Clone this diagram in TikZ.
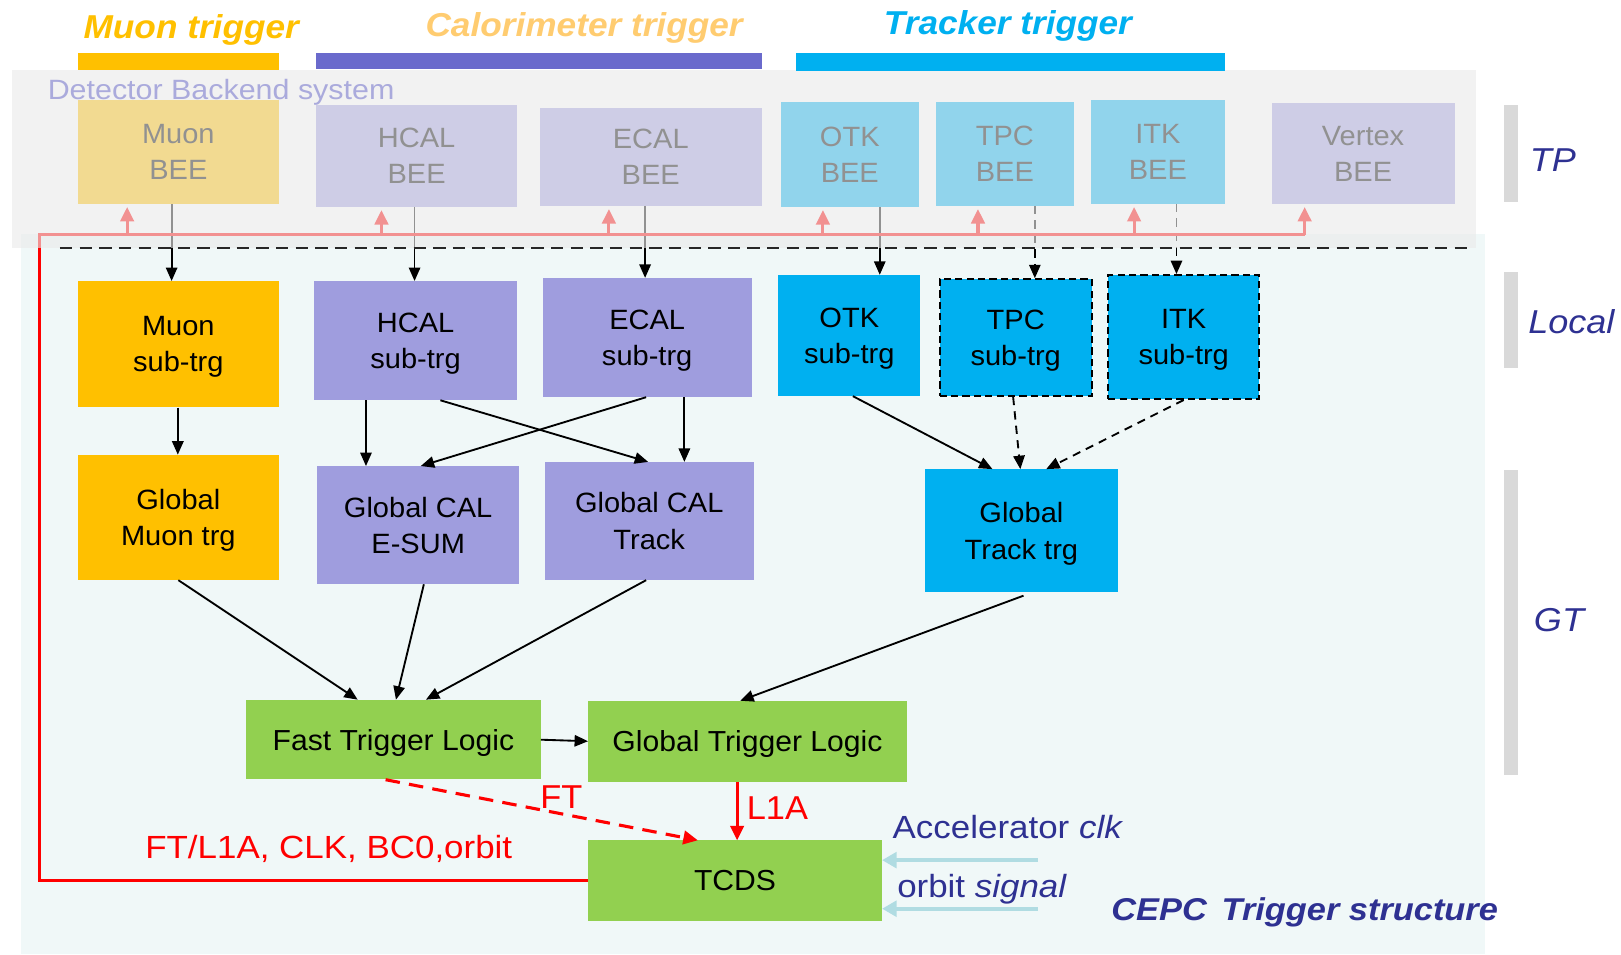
\documentclass[tikz,border=0pt]{standalone}
\usepackage{fontspec}
\setmainfont{Liberation Sans}[FakeStretch=1.04]
\newfontfamily\titlefont{Liberation Sans}[FakeStretch=1.065]
\newfontfamily\labelfont{Liberation Sans}[FakeStretch=1.09]
\usetikzlibrary{arrows.meta}

% keep the height of a text line but drop its descender depth
\newcommand\flatdepth[1]{\raisebox{0pt}[\height][0pt]{#1}}

\definecolor{muonor}{RGB}{255,192,0}
\definecolor{calpur}{RGB}{159,157,222}
\definecolor{trkcyan}{RGB}{0,176,240}
\definecolor{logicgreen}{RGB}{146,208,80}
\definecolor{barpur}{RGB}{106,106,204}
\definecolor{calotitle}{RGB}{255,204,112}
\definecolor{navy}{RGB}{46,49,146}
\definecolor{lowbg}{RGB}{240,248,248}
\definecolor{veil}{RGB}{235,235,235}
\definecolor{sidebar}{RGB}{217,217,217}
\definecolor{clkblue}{RGB}{176,220,226}
\definecolor{detlabel}{RGB}{170,170,220}

\begin{document}
\begin{tikzpicture}[x=1pt,y=-1pt,
  box/.style={draw=none,inner sep=0pt,align=center,
              font=\fontsize{27}{35}\selectfont},
  muonbox/.style={box,fill=muonor},
  calbox/.style={box,fill=calpur},
  trkbox/.style={box,fill=trkcyan},
  logicbox/.style={box,fill=logicgreen,font=\fontsize{28}{34}\selectfont},
  dashbox/.style={draw=black,line width=1.8pt,dash pattern=on 7pt off 4pt},
  arr/.style={-{Triangle[length=13pt,width=11pt]},line width=1.8pt},
  darr/.style={arr,dash pattern=on 8pt off 6pt},
  redarr/.style={-{Triangle[length=14pt,width=13pt]},line width=3pt,red},
  redline/.style={line width=3pt,red},
  clkarr/.style={-{Triangle[length=14pt,width=15pt]},line width=4pt,clkblue},
  title/.style={font=\titlefont\fontsize{32}{38}\selectfont\bfseries\itshape},
  level/.style={font=\labelfont\fontsize{32}{38}\selectfont\itshape,text=navy},
  redtext/.style={text=red,font=\labelfont\fontsize{31}{36}\selectfont},
  navytext/.style={text=navy,font=\labelfont\fontsize{31}{36}\selectfont}]

\useasboundingbox (0,0) rectangle (1568,923);
\fill[white] (0,0) rectangle (1568,923);

% lower background of the trigger region
\fill[lowbg] (20,226) rectangle (1436,923);

% detector backend boards
\node[muonbox,minimum width=195pt,minimum height=100pt] (muonbee) at (172.5,147) {Muon\\BEE};
\node[calbox,minimum width=194pt,minimum height=98pt] (hcalbee) at (403,151) {HCAL\\BEE};
\node[calbox,minimum width=215pt,minimum height=95pt] (ecalbee) at (629.5,151.5) {ECAL\\BEE};
\node[trkbox,minimum width=134pt,minimum height=101pt] (otkbee) at (822,149.5) {OTK\\BEE};
\node[trkbox,minimum width=134pt,minimum height=100pt] (tpcbee) at (972,149) {TPC\\BEE};
\node[trkbox,minimum width=130pt,minimum height=100pt] (itkbee) at (1120,147) {ITK\\BEE};
\node[calbox,minimum width=177pt,minimum height=97pt] (vtxbee) at (1318.5,148.5) {Vertex\\BEE};

% local sub-triggers
\node[muonbox,minimum width=195pt,minimum height=122pt] (muonsub) at (172.5,333) {Muon\\\flatdepth{sub-trg}};
\node[calbox,minimum width=196pt,minimum height=115pt] (hcalsub) at (402,329.5) {HCAL\\\flatdepth{sub-trg}};
\node[calbox,minimum width=202pt,minimum height=115pt] (ecalsub) at (626,326.5) {ECAL\\\flatdepth{sub-trg}};
\node[trkbox,minimum width=137pt,minimum height=117pt] (otksub) at (821.5,324.5) {OTK\\\flatdepth{sub-trg}};
\node[trkbox,dashbox,minimum width=147pt,minimum height=113pt] (tpcsub) at (982.5,326.5) {TPC\\\flatdepth{sub-trg}};
\node[trkbox,dashbox,minimum width=146pt,minimum height=120pt] (itksub) at (1145,326) {ITK\\\flatdepth{sub-trg}};

% BEE to sub-trigger links
\draw[arr] ([xshift=-6.5pt]muonbee.south) -- ([xshift=-6.5pt]muonsub.north);
\draw[arr] ([xshift=-2pt]hcalbee.south) -- ([xshift=-1pt]hcalsub.north);
\draw[arr] ([xshift=-5.5pt]ecalbee.south) -- ([xshift=-2pt]ecalsub.north);
\draw[arr] ([xshift=29pt]otkbee.south) -- ([xshift=29.5pt]otksub.north);
\draw[darr] ([xshift=29pt]tpcbee.south) -- ([xshift=18.5pt]tpcsub.north);
\draw[darr] ([xshift=18pt]itkbee.south) -- ([xshift=-7pt]itksub.north);

% global trigger boxes
\node[muonbox,minimum width=195pt,minimum height=121pt] (gmuon) at (172.5,500.5) {Global\\\flatdepth{Muon trg}};
\node[calbox,minimum width=195pt,minimum height=114pt] (gesum) at (404.5,508) {Global CAL\\E-SUM};
\node[calbox,minimum width=202pt,minimum height=114pt] (gcaltrk) at (628,504) {Global CAL\\Track};
\node[trkbox,minimum width=186pt,minimum height=119pt] (gtrack) at (988,513.5) {Global\\\flatdepth{Track trg}};

\node[logicbox,minimum width=285pt,minimum height=77pt] (ftl) at (380.5,715.5) {\flatdepth{Fast Trigger Logic}};
\node[logicbox,minimum width=308pt,minimum height=78pt] (gtl) at (723,717) {\flatdepth{Global Trigger Logic}};
\node[logicbox,minimum width=284pt,minimum height=78pt] (tcds) at (711,852) {TCDS};

% timing and control distribution back to the boards
\coordinate (fbcorner) at (38,227);
\coordinate (fbend) at (1262,227);
\draw[redline] (tcds.west) -| (fbcorner) -- (fbend);
\coordinate (fb1) at (123,227);
\coordinate (fb2) at (369,227);
\coordinate (fb3) at (589,227);
\coordinate (fb4) at (796,227);
\coordinate (fb5) at (946,227);
\coordinate (fb6) at (1097,227);
\draw[redarr,shorten >=3pt] (fb1) -- (fb1 |- muonbee.south);
\draw[redarr,shorten >=3pt] (fb2) -- (fb2 |- hcalbee.south);
\draw[redarr,shorten >=3pt] (fb3) -- (fb3 |- ecalbee.south);
\draw[redarr,shorten >=3pt] (fb4) -- (fb4 |- otkbee.south);
\draw[redarr,shorten >=3pt] (fb5) -- (fb5 |- tpcbee.south);
\draw[redarr,shorten >=3pt] (fb6) -- (fb6 |- itkbee.south);
\draw[redarr,shorten >=3pt] (fbend) -- (fbend |- vtxbee.south);

% backend system veil
\fill[veil,fill opacity=0.62] (12,68) rectangle (1428,240);
\node[anchor=west,text=detlabel,font=\labelfont\fontsize{27}{32}\selectfont,inner sep=0pt] (detsys) at (46,86) {\flatdepth{Detector Backend system}};

% boundary between backend and trigger
\coordinate (sepL) at (58,240);
\coordinate (sepR) at (1424,240);
\draw[line width=2.5pt,dash pattern=on 12pt off 7pt,black!85] (sepL) -- (sepR);

% trigger family headings
\node[title,text=muonor] (tmuon) at (185,26) {\flatdepth{Muon trigger}};
\node[title,text=calotitle] (tcal) at (565,24) {\flatdepth{Calorimeter trigger}};
\node[title,text=trkcyan] (ttrk) at (975,22) {\flatdepth{Tracker trigger}};
\fill[muonor] (75,51) rectangle (270,68);
\fill[barpur] (306,51) rectangle (737,67);
\fill[trkcyan] (770,51) rectangle (1185,69);

% sub-trigger to global links
\draw[arr] ([xshift=-0.5pt]muonsub.south) -- ([xshift=-0.5pt]gmuon.north);
\draw[arr] ([xshift=-48pt]hcalsub.south) -- ([xshift=-50.5pt]gesum.north);
\draw[arr] ([xshift=24pt]hcalsub.south) -- ([xshift=-1pt]gcaltrk.north);
\draw[arr] ([xshift=-1pt]ecalsub.south) -- ([xshift=2.5pt]gesum.north);
\draw[arr] ([xshift=36pt]ecalsub.south) -- ([xshift=34pt]gcaltrk.north);
\draw[arr] ([xshift=3.5pt]otksub.south) -- ([xshift=-28pt]gtrack.north);
\draw[darr] ([xshift=-2.5pt]tpcsub.south) -- ([xshift=-1pt]gtrack.north);
\draw[darr] ([xshift=0pt]itksub.south) -- ([xshift=24pt]gtrack.north);

% global to logic links
\draw[arr] (gmuon.south) -- ([xshift=-34.5pt]ftl.north);
\draw[arr] ([xshift=5.5pt]gesum.south) -- ([xshift=2.5pt]ftl.north);
\draw[arr] ([xshift=-3pt]gcaltrk.south) -- ([xshift=31.5pt]ftl.north);
\draw[arr] ([xshift=2pt,yshift=-3pt]gtrack.south) -- ([xshift=-7pt]gtl.north);
\draw[arr] (ftl.east) -- (gtl.west);

% fast trigger and level-1 accept
\draw[redarr,dash pattern=on 14pt off 9pt] ([xshift=-7.5pt]ftl.south) -- ([xshift=-36pt]tcds.north);
\node[text=red,font=\fontsize{32}{36}\selectfont] (ftlab) at (543,771) {FT};
\draw[redarr] ([xshift=-10pt]gtl.south) -- ([xshift=2pt]tcds.north);
\node[text=red,font=\fontsize{32}{36}\selectfont] (l1alab) at (752,782) {L1A};
\node[redtext] (fblab) at (318,821) {FT/L1A, CLK, BC0,orbit};

% accelerator inputs
\coordinate (clkin) at (1004,832);
\coordinate (orbin) at (1004,879);
\draw[clkarr] (clkin) -- (clkin -| tcds.east);
\draw[clkarr] (orbin) -- (orbin -| tcds.east);
\node[navytext] (clklab) at (975,800) {Accelerator \textit{clk}};
\node[navytext] (orblab) at (950,857) {\flatdepth{orbit \textit{signal}}};
\node[text=navy,font=\labelfont\fontsize{30.5}{36}\selectfont\bfseries\itshape] (caption) at (1262,879) {\flatdepth{CEPC\, Trigger structure}};

% level markers
\fill[sidebar] (1455,102) rectangle (1468,195);
\fill[sidebar] (1455,263) rectangle (1468,356);
\fill[sidebar] (1455,455) rectangle (1468,750);
\node[level] (tplab) at (1502,155) {TP};
\node[level] (locallab) at (1520,311) {Local};
\node[level] (gtlab) at (1508,600) {GT};
\end{tikzpicture}
\end{document}
